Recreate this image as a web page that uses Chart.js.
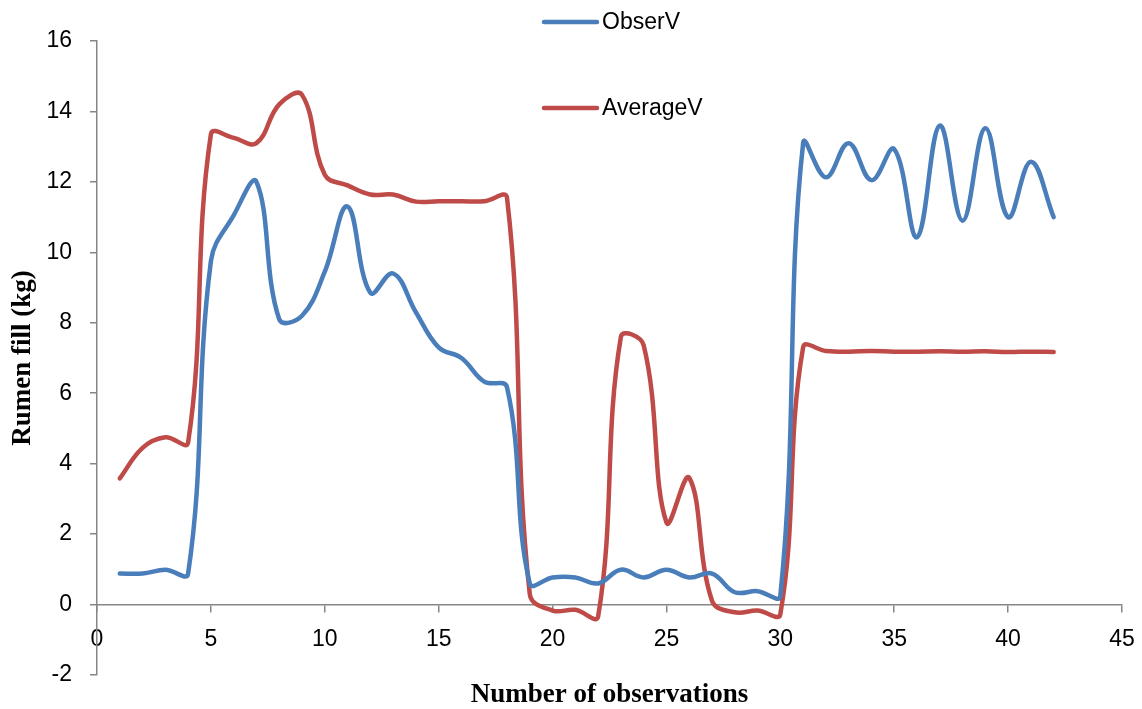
<!DOCTYPE html>
<html>
<head>
<meta charset="utf-8">
<script src="https://cdn.jsdelivr.net/npm/chart.js@4"></script>
<style>
  html, body { margin: 0; padding: 0; background: #fff; }
  #wrap { width: 1142px; height: 709px; position: relative; }
</style>
</head>
<body>
<div id="wrap"><canvas id="rumenCanvas"></canvas></div>
<script>
// observation numbers (x values)
const observacoes = [1, 2, 3, 4, 5, 6, 7, 8, 9, 10, 11, 12, 13, 14, 15, 16, 17, 18, 19, 20, 21,
    22, 23, 24, 25, 26, 27, 28, 29, 30, 31, 32, 33, 34, 35, 36, 37, 38, 39, 40, 41, 42];

// ObserV series (kg)
const observV = [0.88, 0.88, 0.99, 0.88, 9.75, 11.05, 12.0, 8.1, 8.2, 9.45, 11.3, 8.85, 9.4, 8.3,
    7.3, 7.0, 6.33, 6.17, 0.6, 0.77, 0.77, 0.6, 0.99, 0.77, 0.99, 0.77, 0.88, 0.35, 0.38, 0.25,
    13.1, 12.13, 13.1, 12.05, 12.93, 10.43, 13.6, 10.9, 13.52, 11.0, 12.57, 11.0];

// AverageV series (kg)
const averageV = [3.58, 4.45, 4.75, 4.6, 13.35, 13.25, 13.1, 14.2, 14.47, 12.2, 11.9, 11.64, 11.64,
    11.44, 11.45, 11.45, 11.45, 11.55, 0.3, -0.17, -0.15, -0.34, 7.6, 7.36, 2.33, 3.6, 0.11, -0.22,
    -0.17, -0.27, 7.3, 7.2, 7.18, 7.2, 7.18, 7.18, 7.19, 7.18, 7.19, 7.17, 7.18, 7.17];

const serieNomes = ['ObserV', 'AverageV'];
const serieCores = ['#4A7EBB', '#BE4B48'];

const eixoCor = '#868686';
const fonteTicks = { family: "'Liberation Sans', Arial, sans-serif", size: 23 };
const fonteTitulo = { family: "'Liberation Serif', 'Times New Roman', serif", size: 27, weight: 'bold', lineHeight: 1 };

// monta os pares {x, y}
function pares(valores) {
    return valores.map((v, i) => ({ x: observacoes[i], y: v }));
}

// legenda vertical desenhada dentro da area do grafico
const legendaPlugin = {
    id: 'legendaVertical',
    afterDatasetsDraw(chart) {
        const ctx = chart.ctx;
        const linhasY = [22, 108];
        ctx.save();
        chart.data.datasets.forEach((ds, i) => {
            const y = linhasY[i];
            ctx.strokeStyle = ds.borderColor;
            ctx.lineWidth = 4.5;
            ctx.lineCap = 'round';
            ctx.beginPath();
            ctx.moveTo(544, y);
            ctx.lineTo(597, y);
            ctx.stroke();
            ctx.fillStyle = '#000';
            ctx.font = "23px 'Liberation Sans', Arial, sans-serif";
            ctx.textAlign = 'left';
            ctx.textBaseline = 'middle';
            ctx.fillText(ds.label, 602, y + 1);
        });
        ctx.restore();
    }
};

const chart = new Chart(document.getElementById('rumenCanvas'), {
    type: 'line',
    data: {
        datasets: [{
            label: serieNomes[0],
            data: pares(observV),
            borderColor: serieCores[0],
            backgroundColor: serieCores[0],
            borderWidth: 4.5,
            pointRadius: 0,
            tension: 0.4,
            borderCapStyle: 'round',
            fill: false
        }, {
            label: serieNomes[1],
            data: pares(averageV),
            borderColor: serieCores[1],
            backgroundColor: serieCores[1],
            borderWidth: 4.5,
            pointRadius: 0,
            tension: 0.4,
            borderCapStyle: 'round',
            fill: false
        }]
    },
    options: {
        responsive: true,
        maintainAspectRatio: false,
        animation: false,
        layout: {
            padding: { top: 41, right: 20, left: 0, bottom: 0 }
        },
        plugins: {
            legend: { display: false },
            tooltip: { enabled: false },
            title: {
                display: true,
                position: 'bottom',
                fullSize: false,
                text: 'Number of observations',
                color: '#000',
                font: fonteTitulo,
                padding: { top: 7, bottom: 0 }
            }
        },
        scales: {
            x: {
                type: 'linear',
                min: 0,
                max: 45,
                position: { y: 0 },
                ticks: {
                    stepSize: 5,
                    color: '#000',
                    font: fonteTicks,
                    padding: 14,
                    maxRotation: 0
                },
                grid: {
                    drawOnChartArea: false,
                    drawTicks: true,
                    tickLength: 7,
                    color: eixoCor,
                    lineWidth: 1.5
                },
                border: { color: eixoCor, width: 1.5 },
                afterFit(scale) {
                    scale.paddingRight = 0;
                    scale.paddingLeft = 0;
                }
            },
            y: {
                min: -2,
                max: 16,
                ticks: {
                    stepSize: 2,
                    color: '#000',
                    font: fonteTicks,
                    padding: 18
                },
                grid: {
                    drawOnChartArea: false,
                    drawTicks: true,
                    tickLength: 7,
                    color: eixoCor,
                    lineWidth: 1.5
                },
                border: { color: eixoCor, width: 1.5 },
                title: {
                    display: true,
                    text: 'Rumen fill (kg)',
                    color: '#000',
                    font: fonteTitulo,
                    padding: { top: 10, bottom: 0 }
                },
                afterFit(scale) {
                    scale.width = 97;
                }
            }
        }
    },
    plugins: [legendaPlugin]
});
</script>
</body>
</html>
